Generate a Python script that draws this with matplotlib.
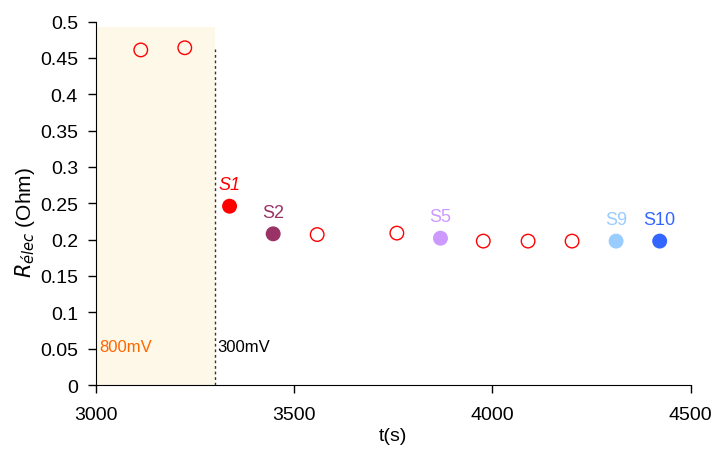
import numpy as np
import matplotlib.pyplot as plt

plt.rcParams['font.family'] = ['Liberation Sans', 'DejaVu Sans']

# open circles (no sample)
t_open = [3113, 3224, 3558, 3759, 3977, 4090, 4201]
r_open = [0.461, 0.464, 0.207, 0.209, 0.198, 0.198, 0.198]

# labelled samples
s_names = ['S1', 'S2', 'S5', 'S9', 'S10']
s_t = [3337, 3447, 3869, 4312, 4422]
s_r = [0.246, 0.208, 0.202, 0.198, 0.198]
s_colors = ['#ff0000', '#993366', '#cc99ff', '#99ccff', '#3366ff']

t_switch = 3300

fig = plt.figure(figsize=(7.13, 4.52), dpi=100)
ax = fig.add_axes([0.1346, 0.146, 0.834, 0.804])

ax.axvspan(3000, t_switch, ymin=0, ymax=0.985, color='#fef8e8', zorder=0, lw=0)
ax.plot([t_switch, t_switch], [0, 0.462], ls=(0, (2, 2)), color='#333333', lw=1)

ax.scatter(t_open, r_open, s=95, facecolors='none', edgecolors='#ff0000', linewidths=1, zorder=3)
ax.scatter(s_t, s_r, s=95, c=s_colors, zorder=3)
for name, t, r, c in zip(s_names, s_t, s_r, s_colors):
    ax.text(t, r + 0.018, name, color=c, fontsize=13, ha='center', va='bottom',
            style='italic' if name == 'S1' else 'normal')

ax.text(3008, 0.053, '800mV', color='#ff6600', fontsize=12, va='center')
ax.text(t_switch + 5, 0.053, '300mV', color='black', fontsize=12, va='center')

ax.set_xlim(3000, 4500)
ax.set_ylim(0, 0.5)
ax.set_xticks([3000, 3500, 4000, 4500])
ax.set_yticks(np.arange(0, 0.51, 0.05))
ax.set_yticklabels(['0', '0.05', '0.1', '0.15', '0.2', '0.25', '0.3', '0.35', '0.4', '0.45', '0.5'])
ax.tick_params(labelsize=14, length=6, width=1)
ax.tick_params(axis='y', pad=7)
ax.tick_params(axis='x', pad=9)
ax.spines['top'].set_visible(False)
ax.spines['right'].set_visible(False)
ax.set_xlabel('t(s)', fontsize=14, labelpad=3)
ax.set_ylabel(r'$R_{élec}$ (Ohm)', fontsize=15)
ax.yaxis.set_label_coords(-0.10, 0.45)

fig.savefig('out.png', dpi=100)
